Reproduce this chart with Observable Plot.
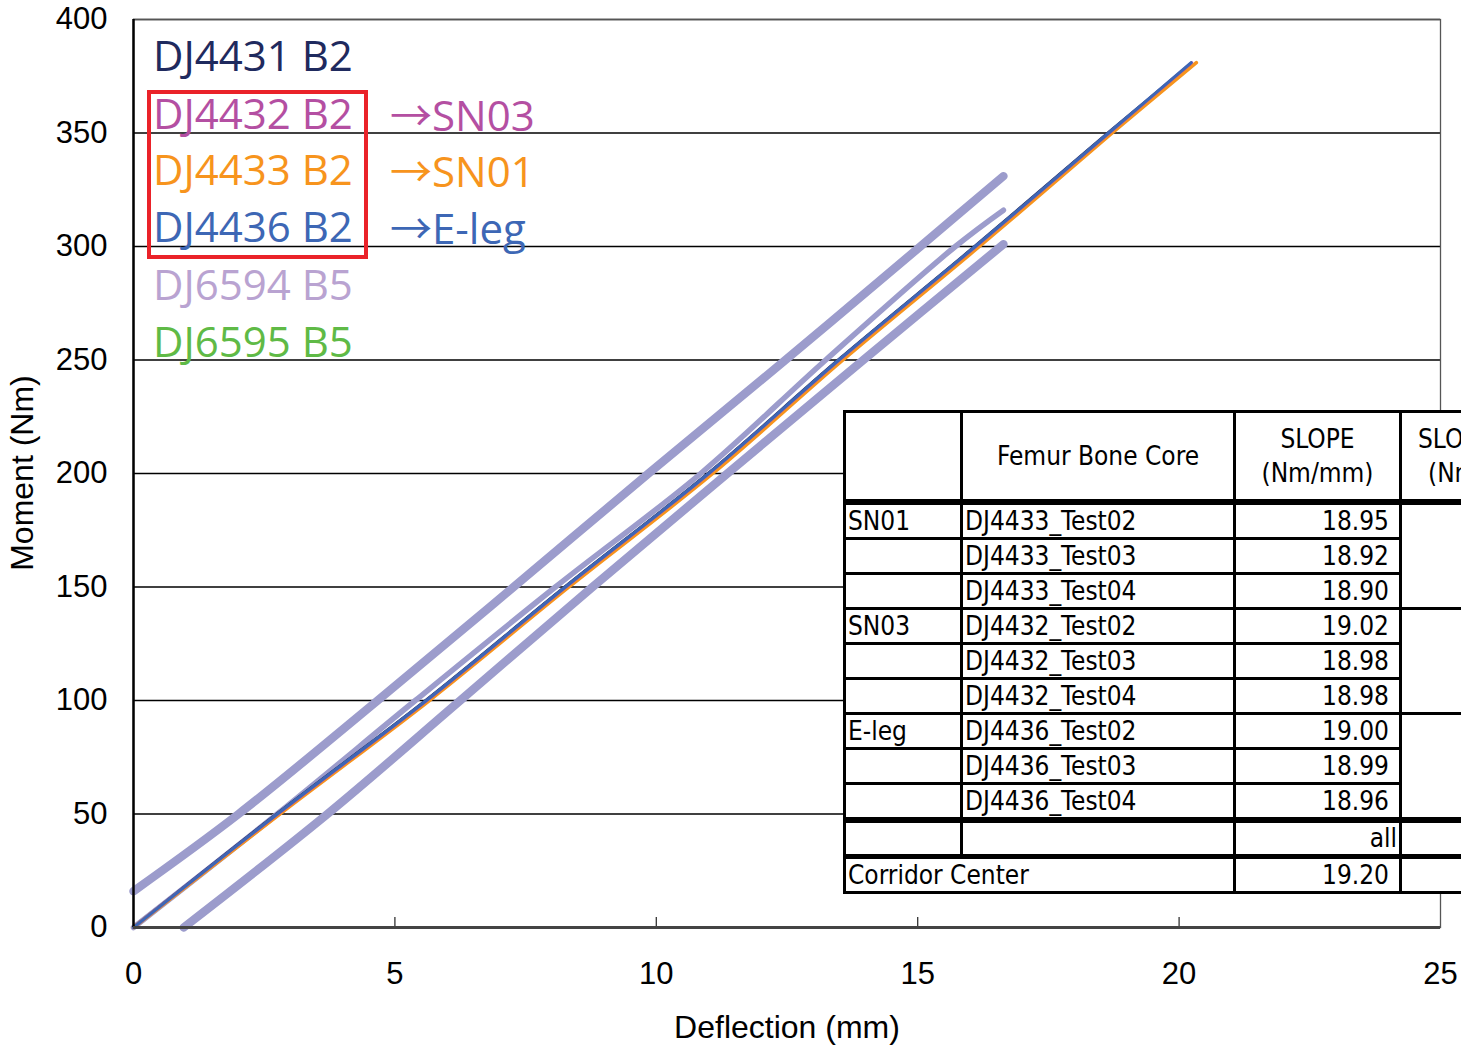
<!DOCTYPE html>
<html>
<head>
<meta charset="utf-8">
<script src="https://cdn.jsdelivr.net/npm/d3@7"></script>
<script src="https://cdn.jsdelivr.net/npm/@observablehq/plot@0.6"></script>
<style>
  html, body { margin: 0; padding: 0; background: #fff; }
  #wrap { position: relative; width: 1461px; height: 1048px; overflow: hidden; background: #fff; }
  #chart { position: absolute; left: 0; top: 0; }
  .axtitle { position: absolute; font-family: "Liberation Sans", Arial, sans-serif; font-size: 32px; color: #000; white-space: nowrap; }
  .leg { position: absolute; font-family: "Open Sans", "Noto Sans", sans-serif; font-size: 42px; line-height: 1; white-space: nowrap; }
  .arr { font-family: "Noto Sans CJK JP", "DejaVu Sans", sans-serif; font-size: 42px; }
  #redbox { position: absolute; left: 147px; top: 90px; width: 213px; height: 161px; border: 4.5px solid #ea2229; }
  table#tbl { position: absolute; left: 843px; top: 410px; width: 726px; border-collapse: collapse; table-layout: fixed;
    font-family: "DejaVu Sans Condensed", "DejaVu Sans", sans-serif; font-size: 26px; background: #fff; color: #000; }
  #tbl td { border: 3px solid #000; padding: 0 2px; white-space: nowrap; overflow: hidden; vertical-align: bottom; line-height: 31px; }
  #tbl td.num { text-align: right; padding-right: 10px; }
  #tbl tr.data td { height: 32px; }
  #tbl tr.head td { height: 86px; vertical-align: middle; text-align: center; line-height: 34px; border-bottom-width: 6px; }
  #tbl tr.all td { border-top-width: 6px; border-bottom-width: 5px; height: 31px; }
</style>
</head>
<body>
<div id="wrap">
  <div id="chart"></div>
</div>
<script>
// ---- axis ticks ----
const xTicks = [0, 5, 10, 15, 20, 25];
const yTicks = [0, 50, 100, 150, 200, 250, 300, 350, 400];
const xInnerTicks = [5, 10, 15, 20];

// ---- corridor lines (Deflection mm, Moment Nm) ----
const corrUpperX = [0, 2.01, 4.67, 7.27, 9.85, 12.47, 15.05, 16.64];
const corrUpperY = [16, 50, 100, 150, 200, 250, 300, 331];
const corrMidX   = [0, 2.75, 5.39, 8.07, 10.85, 13.24, 15.72, 16.64];
const corrMidY   = [0, 50, 100, 150, 200, 250, 300, 316];
const corrLowX   = [0.96, 3.71, 6.25, 8.78, 11.36, 13.96, 16.64];
const corrLowY   = [0, 50, 100, 150, 200, 250, 301];

// ---- test curves ----
const dj4431X = [0, 2.74, 5.59, 8.25, 10.99, 13.48, 16.09, 18.64, 20.21];
const dj4431Y = [0, 50, 100, 150, 200, 250, 300, 350, 380];
const dj4432X = [0, 2.76, 5.61, 8.27, 11.01, 13.50, 16.11, 18.66, 20.24];
const dj4432Y = [0, 50, 100, 150, 200, 250, 300, 350, 381];
const dj4433X = [0, 2.80, 5.66, 8.33, 11.08, 13.57, 16.18, 18.72, 20.33];
const dj4433Y = [0, 50, 100, 150, 200, 250, 300, 350, 381];
const dj4436X = [0, 2.75, 5.60, 8.26, 11.00, 13.49, 16.10, 18.65, 20.23];
const dj4436Y = [0, 50, 100, 150, 200, 250, 300, 350, 381];

// ---- legend ----
const legendLabels = ["DJ4431 B2", "DJ4432 B2", "DJ4433 B2", "DJ4436 B2", "DJ6594 B5", "DJ6595 B5"];
const legendColors = ["#1f2a5e", "#b44fa2", "#f7941d", "#3d67b5", "#b9a3d1", "#5fba46"];
const legendArrows = ["", "SN03", "SN01", "E-leg", "", ""];

// ---- table ----
const tblGroup = ["SN01", "", "", "SN03", "", "", "E-leg", "", ""];
const tblCore = ["DJ4433_Test02", "DJ4433_Test03", "DJ4433_Test04", "DJ4432_Test02", "DJ4432_Test03", "DJ4432_Test04", "DJ4436_Test02", "DJ4436_Test03", "DJ4436_Test04"];
const tblSlope = ["18.95", "18.92", "18.90", "19.02", "18.98", "18.98", "19.00", "18.99", "18.96"];
const corridorCenterSlope = "19.20";

const colCorr = "#9c9ccc";
const toRows = (xs, ys) => xs.map((x, i) => ({x, y: ys[i]}));

const plot = Plot.plot({
  width: 1461,
  height: 1048,
  marginLeft: 133,
  marginRight: 21,
  marginTop: 19,
  marginBottom: 121,
  style: { fontFamily: "'Liberation Sans', Arial, sans-serif", fontSize: "31px", color: "#000", background: "#fff", overflow: "visible" },
  x: { domain: [0, 25], label: null },
  y: { domain: [0, 400], label: null },
  marks: [
    Plot.gridY(yTicks, { stroke: "#000", strokeOpacity: 1, strokeWidth: 1.3 }),
    Plot.frame({ stroke: "#555", strokeWidth: 1.3 }),
    Plot.axisY(yTicks, { tickSize: 0, tickPadding: 26, fontSize: 31 }),
    Plot.axisX(xTicks, { tickSize: 0, tickPadding: 34, fontSize: 31 }),
    Plot.axisX(xInnerTicks, { tickSize: 10, dy: -10, tickFormat: () => "", stroke: "#333", strokeWidth: 1.3 }),
    Plot.line(toRows(corrUpperX, corrUpperY), { x: "x", y: "y", stroke: colCorr, strokeWidth: 8.5, strokeLinecap: "round", curve: "catmull-rom" }),
    Plot.line(toRows(corrLowX, corrLowY), { x: "x", y: "y", stroke: colCorr, strokeWidth: 8.5, strokeLinecap: "round", curve: "catmull-rom" }),
    Plot.line(toRows(corrMidX, corrMidY), { x: "x", y: "y", stroke: colCorr, strokeWidth: 5.5, strokeLinecap: "round", curve: "catmull-rom" }),
    Plot.line(toRows(dj4431X, dj4431Y), { x: "x", y: "y", stroke: legendColors[0], strokeWidth: 3, curve: "catmull-rom" }),
    Plot.line(toRows(dj4433X, dj4433Y), { x: "x", y: "y", stroke: legendColors[2], strokeWidth: 3.5, curve: "catmull-rom" }),
    Plot.line(toRows(dj4432X, dj4432Y), { x: "x", y: "y", stroke: legendColors[1], strokeWidth: 3, curve: "catmull-rom" }),
    Plot.line(toRows(dj4436X, dj4436Y), { x: "x", y: "y", stroke: legendColors[3], strokeWidth: 3, curve: "catmull-rom" }),
    Plot.ruleX([0], { stroke: "#000", strokeWidth: 2.5 }),
    Plot.ruleY([0], { stroke: "#444", strokeWidth: 3 })
  ]
});
document.getElementById("chart").appendChild(plot);

const wrap = document.getElementById("wrap");

// axis titles
const xt = document.createElement("div");
xt.className = "axtitle";
xt.textContent = "Deflection (mm)";
xt.style.left = "787px"; xt.style.top = "1027px";
xt.style.transform = "translate(-50%, -50%)";
wrap.appendChild(xt);
const yt = document.createElement("div");
yt.className = "axtitle";
yt.textContent = "Moment (Nm)";
yt.style.left = "22px"; yt.style.top = "473px";
yt.style.transform = "translate(-50%, -50%) rotate(-90deg)";
wrap.appendChild(yt);

// legend
const legBase = [71, 129, 185, 242, 300, 357];
legendLabels.forEach((lab, i) => {
  const d = document.createElement("div");
  d.className = "leg";
  d.textContent = lab;
  d.style.color = legendColors[i];
  d.style.left = "153px";
  d.style.top = (legBase[i] - 37) + "px";
  wrap.appendChild(d);
  if (legendArrows[i]) {
    const a = document.createElement("div");
    a.className = "leg";
    a.innerHTML = '<span class="arr">→</span>' + legendArrows[i];
    a.style.color = legendColors[i];
    a.style.left = "390px";
    a.style.top = (legBase[i] - 37) + "px";
    wrap.appendChild(a);
  }
});
const rb = document.createElement("div");
rb.id = "redbox";
wrap.appendChild(rb);

// table
const t = document.createElement("table");
t.id = "tbl";
let html = '<colgroup><col style="width:117px"><col style="width:273px"><col style="width:166px"><col style="width:170px"></colgroup>';
html += '<tr class="head"><td></td><td>Femur Bone Core</td><td>SLOPE<br>(Nm/mm)</td>' +
        '<td style="text-align:left"><div style="padding-left:14px">SLOPE</div><div style="padding-left:24px">(Nm/mm)</div></td></tr>';
tblCore.forEach((c, i) => {
  html += '<tr class="data"><td>' + tblGroup[i] + '</td><td>' + c + '</td><td class="num">' + tblSlope[i] + '</td>';
  if (i % 3 === 0) html += '<td rowspan="3"></td>';
  html += '</tr>';
});
html += '<tr class="all"><td></td><td></td><td class="num" style="padding-right:2px">all</td><td></td></tr>';
html += '<tr class="data"><td colspan="2">Corridor Center</td><td class="num">' + corridorCenterSlope + '</td><td></td></tr>';
t.innerHTML = html;
wrap.appendChild(t);
</script>
</body>
</html>
